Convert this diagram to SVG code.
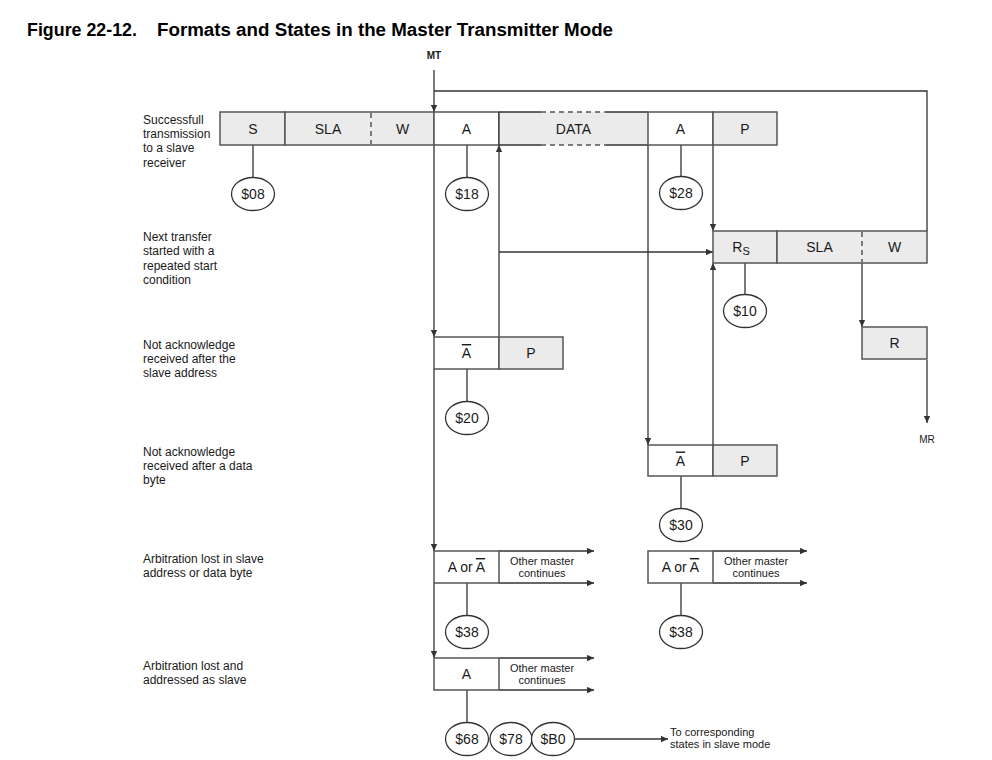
<svg xmlns="http://www.w3.org/2000/svg" width="992" height="760" viewBox="0 0 992 760">
<style>
text{font-family:"Liberation Sans",Arial,sans-serif;fill:#1a1a1a}
.title{font-size:18px;font-weight:bold;fill:#000}
.lbl{font-size:12px}
.box{font-size:14px;text-anchor:middle}
.st{font-size:14px;text-anchor:middle}
.sm{font-size:11px;text-anchor:middle}
.tiny{font-size:10px;text-anchor:middle}
.g{fill:#ebebeb;stroke:#555;stroke-width:1.5}
.w{fill:#fff;stroke:#555;stroke-width:1.5}
.e{fill:#fff;stroke:#333;stroke-width:1.3}
.ln{fill:none;stroke:#333;stroke-width:1.3}
.ar{fill:none;stroke:#333;stroke-width:1.3;marker-end:url(#ah)}
.dash{fill:none;stroke:#555;stroke-width:1.5;stroke-dasharray:5,4}
.ol{text-decoration:overline}
</style>
<defs>
<marker id="ah" viewBox="0 0 10 10" refX="10" refY="5" markerWidth="8" markerHeight="7" markerUnits="userSpaceOnUse" orient="auto">
<path d="M0,0.5 L10,5 L0,9.5 z" fill="#333"/>
</marker>
</defs>
<rect width="992" height="760" fill="#fff"/>
<g id="title">
<text class="title" x="27" y="36" textLength="110" lengthAdjust="spacingAndGlyphs">Figure 22-12.</text>
<text class="title" x="157" y="36" textLength="456" lengthAdjust="spacingAndGlyphs">Formats and States in the Master Transmitter Mode</text>
</g>

<g id="labels">
<text class="tiny" x="434" y="59" font-weight="bold" fill="#333">MT</text>
<text class="tiny" x="927" y="443" fill="#333">MR</text>
<text class="lbl" x="143" y="124"><tspan x="143">Successfull</tspan><tspan x="143" dy="14.2">transmission</tspan><tspan x="143" dy="14.2">to a slave</tspan><tspan x="143" dy="14.2">receiver</tspan></text>
<text class="lbl" x="143" y="241"><tspan x="143">Next transfer</tspan><tspan x="143" dy="14.3">started with a</tspan><tspan x="143" dy="14.3">repeated start</tspan><tspan x="143" dy="14.3">condition</tspan></text>
<text class="lbl" x="143" y="348.5"><tspan x="143">Not acknowledge</tspan><tspan x="143" dy="14.3">received after the</tspan><tspan x="143" dy="14.3">slave address</tspan></text>
<text class="lbl" x="143" y="455.5"><tspan x="143">Not acknowledge</tspan><tspan x="143" dy="14.3">received after a data</tspan><tspan x="143" dy="14.3">byte</tspan></text>
<text class="lbl" x="143" y="562.5"><tspan x="143">Arbitration lost in slave</tspan><tspan x="143" dy="14.3">address or data byte</tspan></text>
<text class="lbl" x="143" y="669.5"><tspan x="143">Arbitration lost and</tspan><tspan x="143" dy="14.3">addressed as slave</tspan></text>
<text x="670" y="736" font-size="11"><tspan x="670">To corresponding</tspan><tspan x="670" dy="12">states in slave mode</tspan></text>
</g>

<g id="connectors">
<path class="ar" d="M434,70 V112"/>
<path class="ln" d="M434,91 H927 V231"/>
<path class="ar" d="M434,145 V337"/>
<path class="ar" d="M434,369 V551"/>
<path class="ar" d="M434,583 V658"/>
<path class="ar" d="M713,145 V231"/>
<path class="ar" d="M499,337 V145"/>
<path class="ar" d="M499,252 H713"/>
<path class="ar" d="M648,145 V445"/>
<path class="ar" d="M713,445 V263"/>
<path class="ar" d="M862,263 V327"/>
<path class="ar" d="M927,360 V423"/>
<path class="ar" d="M499,551 H594"/>
<path class="ar" d="M499,583 H594"/>
<path class="ar" d="M713,551 H807"/>
<path class="ar" d="M713,583 H807"/>
<path class="ar" d="M499,658 H594"/>
<path class="ar" d="M499,690 H594"/>
<path class="ln" d="M253,145 V177 M467,145 V177.5 M681,145 V176.5 M745,263 V294.5 M467,369 V401.5 M681,476 V508.5 M467,583 V615.5 M681,583 V615.5 M467,690 V722.5"/>
<path class="ar" d="M574,739 H668"/>
</g>

<g id="row-success">
<rect class="g" x="220" y="112" width="65" height="33"/>
<rect class="g" x="285" y="112" width="149" height="33"/>
<path class="dash" d="M371,113 V144"/>
<rect class="w" x="434" y="112" width="65" height="33"/>
<rect x="499" y="112" width="149" height="33" fill="#ebebeb"/>
<path class="ln" d="M499,112 H541 M606,112 H648 M499,145 H541 M606,145 H648" stroke="#555" stroke-width="1.5"/>
<path class="dash" d="M541,112 H606 M541,145 H606" stroke="#999"/>
<rect class="w" x="648" y="112" width="65" height="33"/>
<rect class="g" x="713" y="112" width="64" height="33"/>
<path class="ln" d="M499,112 V145" stroke="#555" stroke-width="1.5"/>
<text class="box" x="253" y="133.5">S</text>
<text class="box" x="328" y="133.5">SLA</text>
<text class="box" x="402.5" y="133.5">W</text>
<text class="box" x="466.5" y="133.5">A</text>
<text class="box" x="573.5" y="133.5" font-size="13.5">DATA</text>
<text class="box" x="680.5" y="133.5">A</text>
<text class="box" x="745" y="133.5">P</text>
</g>

<g id="row-repeated-start">
<rect class="g" x="713" y="231" width="64" height="32"/>
<rect class="g" x="777" y="231" width="150" height="32"/>
<path class="dash" d="M862,232 V262"/>
<text class="box" x="741" y="252">R<tspan font-size="11" dy="3">S</tspan></text>
<text class="box" x="819.5" y="252">SLA</text>
<text class="box" x="894.5" y="252">W</text>
</g>

<g id="node-R">
<rect class="g" x="862" y="327" width="65" height="32"/>
<text class="box" x="894.5" y="348">R</text>
</g>

<g id="row-nack-sla">
<rect class="w" x="434" y="337" width="65" height="32"/>
<rect class="g" x="499" y="337" width="64" height="32"/>
<text class="box" x="466.5" y="358"><tspan class="ol">A</tspan></text>
<text class="box" x="531" y="358">P</text>
</g>

<g id="row-nack-data">
<rect class="w" x="648" y="445" width="65" height="31"/>
<rect class="g" x="713" y="445" width="64" height="31"/>
<text class="box" x="680.5" y="465.5"><tspan class="ol">A</tspan></text>
<text class="box" x="745" y="465.5">P</text>
</g>

<g id="row-arb-lost-1">
<rect class="w" x="434" y="551" width="65" height="32"/>
<text class="box" x="466.5" y="572" font-size="13.5">A or <tspan class="ol">A</tspan></text>
<text class="sm" x="542" y="565">Other master</text>
<text class="sm" x="542" y="577">continues</text>
</g>

<g id="row-arb-lost-2">
<rect class="w" x="648" y="551" width="65" height="32"/>
<text class="box" x="680.5" y="572" font-size="13.5">A or <tspan class="ol">A</tspan></text>
<text class="sm" x="756" y="565">Other master</text>
<text class="sm" x="756" y="577">continues</text>
</g>

<g id="row-arb-slave">
<rect class="w" x="434" y="658" width="65" height="32"/>
<text class="box" x="466.5" y="679">A</text>
<text class="sm" x="542" y="672">Other master</text>
<text class="sm" x="542" y="684">continues</text>
</g>

<g id="state-08"><ellipse class="e" cx="253" cy="194" rx="21.5" ry="16.5"/><text class="st" x="253" y="199">$08</text></g>
<g id="state-18"><ellipse class="e" cx="467" cy="194" rx="21.5" ry="16.5"/><text class="st" x="467" y="199">$18</text></g>
<g id="state-28"><ellipse class="e" cx="681" cy="193" rx="21.5" ry="16.5"/><text class="st" x="681" y="198">$28</text></g>
<g id="state-10"><ellipse class="e" cx="745" cy="311" rx="21.5" ry="16.5"/><text class="st" x="745" y="316">$10</text></g>
<g id="state-20"><ellipse class="e" cx="467" cy="418" rx="21.5" ry="16.5"/><text class="st" x="467" y="423">$20</text></g>
<g id="state-30"><ellipse class="e" cx="681" cy="525" rx="21.5" ry="16.5"/><text class="st" x="681" y="530">$30</text></g>
<g id="state-38a"><ellipse class="e" cx="467" cy="632" rx="21.5" ry="16.5"/><text class="st" x="467" y="637">$38</text></g>
<g id="state-38b"><ellipse class="e" cx="681" cy="632" rx="21.5" ry="16.5"/><text class="st" x="681" y="637">$38</text></g>
<g id="state-68"><ellipse class="e" cx="467" cy="739" rx="21.5" ry="16.5"/><text class="st" x="467" y="744">$68</text></g>
<g id="state-78"><ellipse class="e" cx="511" cy="739" rx="21" ry="16.5"/><text class="st" x="511" y="744">$78</text></g>
<g id="state-B0"><ellipse class="e" cx="553" cy="739" rx="21.5" ry="16.5"/><text class="st" x="553" y="744">$B0</text></g>
</svg>
